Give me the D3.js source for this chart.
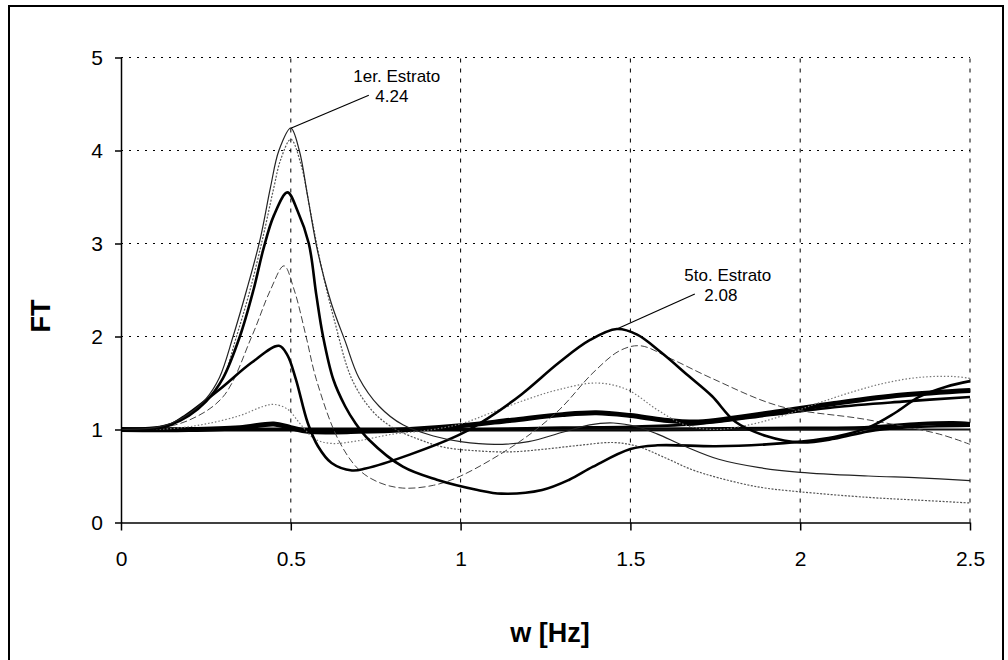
<!DOCTYPE html>
<html>
<head>
<meta charset="utf-8">
<script src="https://cdn.jsdelivr.net/npm/d3@7"></script>
<style>
  body { margin: 0; background: #fff; }
  svg text { font-family: "Liberation Sans", Arial, sans-serif; }
</style>
</head>
<body>
<svg id="chart" width="1008" height="660"></svg>
<script>
// tick values
const wTicks = [0, 0.5, 1, 1.5, 2, 2.5];
const ftTicks = [0, 1, 2, 3, 4, 5];

// transfer function per stratum, [w (Hz), FT]
const estrato1 = [[0,1],[0.1,1.02],[0.15,1.07],[0.2,1.17],[0.25,1.33],[0.29,1.56],[0.33,2.0],[0.37,2.5],[0.41,3.05],[0.44,3.6],[0.465,4.0],[0.5,4.24],[0.525,4.0],[0.55,3.5],[0.58,2.9],[0.62,2.35],[0.66,1.95],[0.7,1.56],[0.76,1.25],[0.83,1.05],[0.92,0.93],[1.0,0.87],[1.1,0.84],[1.2,0.87],[1.3,0.97],[1.38,1.05],[1.45,1.07],[1.52,1.03],[1.58,0.95],[1.66,0.82],[1.76,0.68],[1.88,0.59],[2.0,0.54],[2.2,0.5],[2.35,0.48],[2.5,0.45]];
const estrato2 = [[0,1],[0.1,1.02],[0.15,1.06],[0.2,1.15],[0.25,1.3],[0.3,1.55],[0.34,2.0],[0.38,2.5],[0.42,3.1],[0.45,3.6],[0.47,3.9],[0.5,4.12],[0.53,3.85],[0.56,3.3],[0.59,2.75],[0.63,2.15],[0.68,1.54],[0.74,1.2],[0.8,1.02],[0.88,0.89],[0.95,0.81],[1.05,0.77],[1.15,0.76],[1.25,0.79],[1.35,0.83],[1.45,0.86],[1.52,0.82],[1.6,0.7],[1.68,0.57],[1.76,0.48],[1.88,0.38],[2.0,0.33],[2.2,0.27],[2.35,0.24],[2.5,0.21]];
const estrato3 = [[0,1],[0.1,1.02],[0.15,1.06],[0.2,1.15],[0.25,1.3],[0.3,1.55],[0.35,2.0],[0.39,2.5],[0.42,2.95],[0.45,3.3],[0.49,3.55],[0.52,3.35],[0.553,3.0],[0.575,2.45],[0.595,2.0],[0.625,1.54],[0.66,1.25],[0.69,1.07],[0.73,0.89],[0.83,0.6],[0.93,0.46],[1.05,0.35],[1.12,0.31],[1.24,0.35],[1.32,0.46],[1.39,0.6],[1.5,0.79],[1.58,0.83],[1.75,0.82],[1.9,0.84],[2.0,0.87],[2.1,0.92],[2.2,1.02],[2.28,1.18],[2.35,1.35],[2.43,1.46],[2.5,1.52]];
const estrato4 = [[0,1],[0.1,1.01],[0.2,1.1],[0.3,1.35],[0.385,2.0],[0.44,2.5],[0.48,2.76],[0.51,2.5],[0.545,2.0],[0.575,1.54],[0.64,0.89],[0.7,0.57],[0.76,0.43],[0.83,0.37],[0.92,0.4],[1.0,0.5],[1.17,0.86],[1.29,1.21],[1.39,1.61],[1.47,1.85],[1.53,1.9],[1.62,1.76],[1.74,1.55],[1.94,1.25],[2.19,1.11],[2.41,0.95],[2.5,0.84]];
const estrato5 = [[0,1],[0.1,1.01],[0.14,1.04],[0.19,1.15],[0.29,1.43],[0.385,1.72],[0.465,1.9],[0.49,1.8],[0.515,1.54],[0.55,1.07],[0.58,0.82],[0.62,0.64],[0.68,0.56],[0.72,0.58],[0.85,0.73],[1.0,0.95],[1.08,1.12],[1.18,1.38],[1.29,1.72],[1.38,1.96],[1.46,2.08],[1.52,2.02],[1.59,1.83],[1.67,1.58],[1.74,1.36],[1.81,1.08],[1.9,0.93],[2.0,0.86],[2.1,0.9],[2.2,0.98],[2.3,1.02],[2.5,1.04]];
const estrato6 = [[0,1],[0.15,1.01],[0.25,1.06],[0.35,1.15],[0.42,1.25],[0.45,1.27],[0.49,1.22],[0.53,1.05],[0.57,0.9],[0.62,0.85],[0.7,0.88],[0.8,0.95],[0.9,0.99],[1.0,1.06],[1.09,1.18],[1.2,1.33],[1.29,1.43],[1.4,1.5],[1.49,1.43],[1.58,1.21],[1.66,1.05],[1.75,1.0],[1.85,1.05],[1.95,1.15],[2.05,1.28],[2.15,1.4],[2.25,1.5],[2.35,1.56],[2.45,1.57],[2.5,1.55]];
const estrato7 = [[0,1],[0.2,1.0],[0.35,1.02],[0.45,1.06],[0.5,1.02],[0.55,0.98],[0.7,0.98],[0.85,1.0],[1.0,1.04],[1.15,1.1],[1.3,1.16],[1.4,1.18],[1.5,1.15],[1.6,1.1],[1.7,1.08],[1.8,1.12],[1.95,1.2],[2.1,1.28],[2.3,1.37],[2.5,1.42]];
const estrato8 = [[0,1],[0.5,1.0],[1.0,1.0],[1.3,1.02],[1.5,1.03],[1.7,1.06],[1.9,1.15],[2.1,1.24],[2.3,1.3],[2.5,1.35]];
const estrato9 = [[0,1],[0.5,1.0],[1.0,1.0],[1.5,1.0],[2.0,1.01],[2.2,1.02],[2.35,1.06],[2.45,1.07],[2.5,1.06]];
const estrato10 = [[0,1],[1.0,1.0],[2.5,1.0]];

// labelled peaks
const peakNames = ["1er. Estrato", "5to. Estrato"];
const peakW = [0.5, 1.46];
const peakFT = [4.24, 2.08];

const svg = d3.select("#chart");
const x = d3.scaleLinear().domain([0, 2.5]).range([121, 970]);
const y = d3.scaleLinear().domain([0, 5]).range([522.5, 57.5]);

// outer frame
svg.append("rect").attr("x", 9).attr("y", 6).attr("width", 994).attr("height", 720)
  .attr("fill", "none").attr("stroke", "#000").attr("stroke-width", 2);

// grid
svg.append("g").selectAll("line").data(ftTicks.slice(1)).enter().append("line")
  .attr("x1", x(0)).attr("x2", x(2.5)).attr("y1", d => y(d)).attr("y2", d => y(d))
  .attr("stroke", "#000").attr("stroke-width", 1).attr("stroke-dasharray", "2,6");
svg.append("g").selectAll("line").data(wTicks.slice(1)).enter().append("line")
  .attr("y1", y(0)).attr("y2", y(5)).attr("x1", d => x(d)).attr("x2", d => x(d))
  .attr("stroke", "#000").attr("stroke-width", 1).attr("stroke-dasharray", "4,6");

// series
const series = [
  { data: estrato9, color: "#000", width: 4, dash: null },
  { data: estrato10, color: "#111", width: 2, dash: null },
  { data: estrato8, color: "#000", width: 2.6, dash: null },
  { data: estrato7, color: "#000", width: 5, dash: null },
  { data: estrato6, color: "#777", width: 1.2, dash: "1.5,2" },
  { data: estrato4, color: "#444", width: 1, dash: "7,3" },
  { data: estrato2, color: "#555", width: 1.2, dash: "2,1.5" },
  { data: estrato3, color: "#000", width: 2.6, dash: null },
  { data: estrato5, color: "#000", width: 2.6, dash: null },
  { data: estrato1, color: "#222", width: 1.2, dash: null }
];

const line = d3.line()
  .x(d => x(d[0]))
  .y(d => y(d[1]))
  .curve(d3.curveCatmullRom.alpha(0.5));

svg.append("g").selectAll("path").data(series).enter().append("path")
  .attr("d", d => line(d.data))
  .attr("fill", "none")
  .attr("stroke", d => d.color)
  .attr("stroke-width", d => d.width)
  .attr("stroke-dasharray", d => d.dash)
  .attr("stroke-linejoin", "round");

// axes
const yAxis = svg.append("g").attr("transform", "translate(" + x(0) + ",0)")
  .call(d3.axisLeft(y).tickValues(ftTicks).tickSize(6).tickSizeOuter(0).tickPadding(12).tickFormat(d => String(d)));
const xAxis = svg.append("g").attr("transform", "translate(0," + y(0) + ")")
  .call(d3.axisBottom(x).tickValues(wTicks).tickSize(8).tickSizeOuter(0).tickPadding(21).tickFormat(d => String(d)));

[yAxis, xAxis].forEach(a => {
  a.selectAll("path.domain").attr("stroke", "#000").attr("stroke-width", 1.5);
  a.selectAll(".tick line").attr("stroke", "#000").attr("stroke-width", 1.5);
  a.selectAll(".tick text").attr("font-size", 21).attr("fill", "#000")
    .style("font-family", "'Liberation Sans', Arial, sans-serif");
});

// axis titles
svg.append("text")
  .attr("transform", "translate(50,316) rotate(-90)")
  .attr("text-anchor", "middle")
  .attr("font-size", 27).attr("font-weight", "bold")
  .text("FT");
svg.append("text")
  .attr("x", 550).attr("y", 642)
  .attr("text-anchor", "middle")
  .attr("font-size", 27).attr("font-weight", "bold")
  .text("w [Hz]");

// peak annotations
const ann = svg.append("g");
peakNames.forEach((name, i) => {
  const px = x(peakW[i]), py = y(peakFT[i]);
  ann.append("line")
    .attr("x1", px).attr("y1", py)
    .attr("x2", px + 78).attr("y2", py - 33 - (i ? 2 : 0))
    .attr("stroke", "#000").attr("stroke-width", 1.2);
  ann.append("text")
    .attr("x", px + 106 + (i ? 5 : 0)).attr("y", py - 46 - (i ? 2 : 0))
    .attr("text-anchor", "middle").attr("font-size", 17)
    .text(name);
  ann.append("text")
    .attr("x", px + 101 + (i ? 3 : 0)).attr("y", py - 26 - (i ? 2 : 0))
    .attr("text-anchor", "middle").attr("font-size", 17)
    .text(peakFT[i].toFixed(2));
});
</script>
</body>
</html>
